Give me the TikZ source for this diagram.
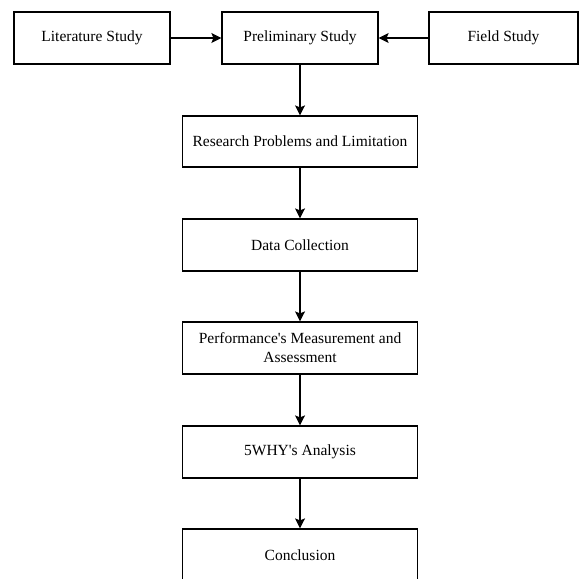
\documentclass[tikz,border=0pt]{standalone}
\usepackage{fontspec}
\setmainfont{Liberation Serif}
\usepackage{tikz}
\usetikzlibrary{positioning, arrows.meta, calc}

\tikzset{
    stepbox/.style={draw, line width=1.2pt, minimum width=235pt, minimum height=52pt,
        align=center, inner sep=2pt, font=\fontsize{15.5}{19}\selectfont},
    topbox/.style={stepbox, minimum width=156pt},
    flow/.style={line width=1.2pt, -{Stealth[length=10pt, width=10pt, inset=2pt]}}
}

\begin{document}
\begin{tikzpicture}[x=1pt, y=-1pt]

    % ================= page frame =================
    \useasboundingbox (0,0) rectangle (580,578);
    \clip (0,0) rectangle (580,578);

    % ================= top row =================
    \node[topbox] (Lit) at (92, 38) {Literature Study};
    \node[topbox] (Pre) at (300, 38) {Preliminary Study};
    \node[topbox, minimum width=149pt] (Fld) at (503.5, 38) {Field Study};

    % ================= main column =================
    \node[stepbox, minimum height=51pt] (Res) at (300, 141.5) {Research Problems and Limitation};
    \node[stepbox] (Dat) at (300, 245) {Data Collection};
    \node[stepbox] (Per) at (300, 348) {Performance\textquotesingle s Measurement and\\Assessment};
    \node[stepbox] (Why) at (300, 452) {5WHY\textquotesingle s Analysis};
    \node[stepbox] (Con) at (300, 555) {Conclusion};

    % ================= connectors =================
    \draw[flow] (Lit) -- (Pre);
    \draw[flow] (Fld) -- (Pre);
    \draw[flow] (Pre) -- (Res);
    \draw[flow] (Res) -- (Dat);
    \draw[flow] (Dat) -- (Per);
    \draw[flow] (Per) -- (Why);
    \draw[flow] (Why) -- (Con);

\end{tikzpicture}
\end{document}
